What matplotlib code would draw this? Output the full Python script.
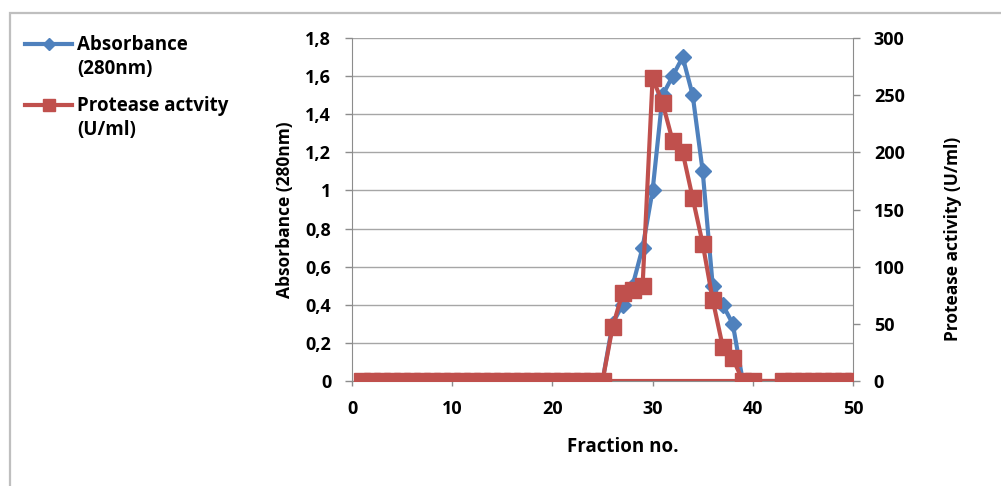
import matplotlib
matplotlib.use("Agg")
import matplotlib.pyplot as plt
from matplotlib.lines import Line2D
from matplotlib.patches import Rectangle

plt.rcParams["font.family"] = ["Open Sans", "DejaVu Sans"]
plt.rcParams["font.weight"] = "bold"

# absorbance at 280 nm, fractions 1..39
abs_fraction = list(range(1, 40))
absorbance = [0] * 25 + [0.3, 0.4, 0.5, 0.7, 1.0, 1.5, 1.6, 1.7, 1.5, 1.1, 0.5, 0.4, 0.3, 0]

# protease activity (U/ml), fractions 1..40 and 43..50
prot_fraction = list(range(1, 41)) + list(range(43, 51))
protease = [0] * 25 + [47, 77, 80, 83, 265, 243, 210, 200, 160, 120, 71, 30, 20, 0, 0] + [0] * 8
# zero baseline drawn under the peak in the original
base_fraction = [25, 43]
base_value = [0, 0]

left_ticks = [0, 0.2, 0.4, 0.6, 0.8, 1.0, 1.2, 1.4, 1.6, 1.8]
left_labels = ["0", "0,2", "0,4", "0,6", "0,8", "1", "1,2", "1,4", "1,6", "1,8"]
right_ticks = [0, 50, 100, 150, 200, 250, 300]
x_ticks = [0, 10, 20, 30, 40, 50]

BLUE = "#4F81BD"
RED = "#C0504D"
GRID = "#A6A6A6"

fig = plt.figure(figsize=(10.01, 4.86), dpi=100)
ax = fig.add_axes([352 / 1001, 105 / 486, 501 / 1001, 343 / 486])
ax2 = ax.twinx()

ax.plot(abs_fraction, absorbance, color=BLUE, lw=3, marker="D", ms=8, zorder=3)
ax2.plot(base_fraction, base_value, color=RED, lw=3, zorder=3)
ax2.plot(prot_fraction, protease, color=RED, lw=3, marker="s", ms=11, zorder=4)

ax.set_xlim(0, 50)
ax.set_ylim(0, 1.8)
ax2.set_ylim(0, 300)
ax.set_xticks(x_ticks)
ax.set_yticks(left_ticks)
ax.set_yticklabels(left_labels)
ax2.set_yticks(right_ticks)

ax.grid(axis="y", color=GRID, lw=1)
ax.set_axisbelow(True)
for a in (ax, ax2):
    a.spines["top"].set_visible(False)
    for s in ("left", "right", "bottom"):
        a.spines[s].set_color("#8C8C8C")
    a.tick_params(colors="#8C8C8C", labelcolor="black", labelsize=13, length=5, width=1)
ax.spines["right"].set_visible(False)
ax2.spines["left"].set_visible(False)
ax2.spines["bottom"].set_visible(False)
ax.tick_params(axis="y", pad=10)
ax2.tick_params(axis="y", pad=10)
ax.tick_params(axis="x", length=3.6, pad=10)

ax.set_ylabel("Absorbance (280nm)", fontsize=12.5, fontweight="bold", labelpad=8)
ax2.set_ylabel("Protease activity (U/ml)", fontsize=12.5, fontweight="bold")
ax2.yaxis.set_label_coords(1.182, 0.414)
ax.set_xlabel("Fraction no.", fontsize=13.5, fontweight="bold")
ax.xaxis.set_label_coords(0.541, -0.163)

# legend drawn by hand so the handle sits on the first line
def legend_entry(y_px, color, marker, ms, label):
    y = 1 - y_px / 486
    fig.add_artist(Line2D([25 / 1001, 72 / 1001], [y, y], color=color, lw=3))
    fig.add_artist(Line2D([49 / 1001], [y], color=color, marker=marker, ms=ms))
    fig.text(77 / 1001, 1 - (y_px - 9) / 486, label, fontsize=13.5, fontweight="bold",
             va="top", ha="left", linespacing=1.25, transform=fig.transFigure)

legend_entry(44, BLUE, "D", 6.5, "Absorbance\n(280nm)")
legend_entry(105, RED, "s", 9, "Protease actvity\n(U/ml)")

# chart frame
fig.add_artist(Rectangle((10 / 1001, -0.05), 1.2, 1 - 13 / 486 + 0.05, transform=fig.transFigure,
                         fill=False, edgecolor="#BFBFBF", lw=1.6))

fig.savefig("out.png", dpi=100)
